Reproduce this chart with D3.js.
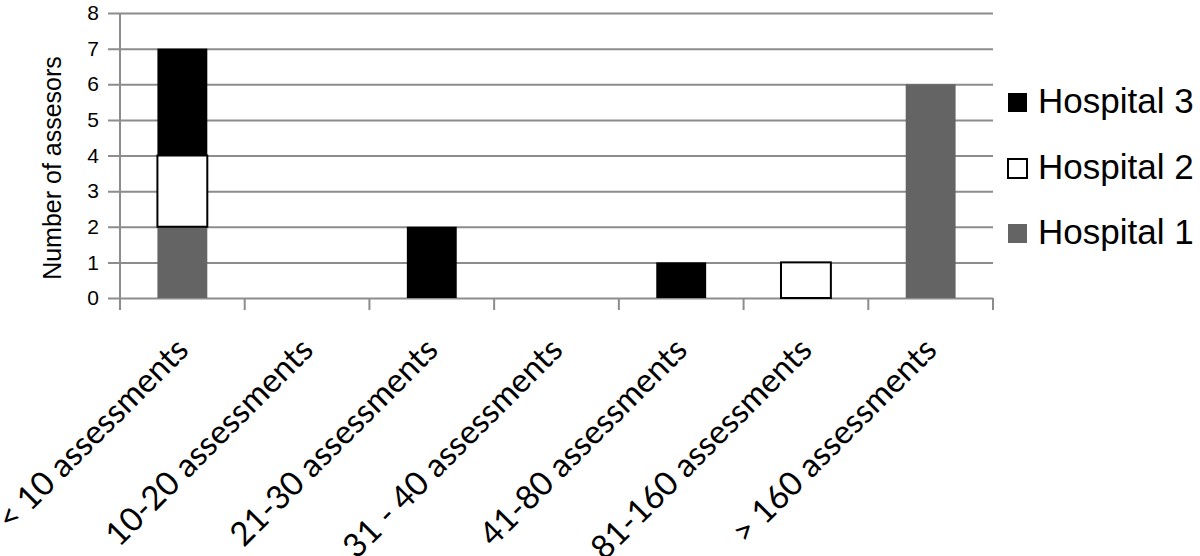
<!DOCTYPE html>
<html>
<head>
<meta charset="utf-8">
<script src="https://cdn.jsdelivr.net/npm/d3@7"></script>
<style>
  body { margin: 0; background: #fff; }
</style>
</head>
<body>
<div id="chart"></div>
<script>
// data
var categories = [
  "< 10 assessments",
  "10-20 assessments",
  "21-30 assessments",
  "31 - 40 assessments",
  "41-80 assessments",
  "81-160 assessments",
  "> 160 assessments"
];
var hospital1 = [2, 0, 0, 0, 0, 0, 6];
var hospital2 = [2, 0, 0, 0, 0, 1, 0];
var hospital3 = [3, 0, 2, 0, 1, 0, 0];
var seriesNames = ["Hospital 1", "Hospital 2", "Hospital 3"];
var yTicks = [0, 1, 2, 3, 4, 5, 6, 7, 8];

var W = 1200, H = 556;
var plotLeft = 120, plotRight = 993, plotTop = 13, plotBottom = 298;

var svg = d3
  .select("#chart")
  .append("svg")
  .attr("width", W)
  .attr("height", H);

var rows = categories.map(function (c, i) {
  return {
    cat: c,
    "Hospital 1": hospital1[i],
    "Hospital 2": hospital2[i],
    "Hospital 3": hospital3[i]
  };
});

var x = d3
  .scaleBand()
  .domain(categories)
  .range([plotLeft, plotRight])
  .paddingInner(0.6)
  .paddingOuter(0.3);

var y = d3.scaleLinear().domain([0, 8]).range([plotBottom, plotTop]);

var fill = { "Hospital 1": "#646464", "Hospital 2": "#ffffff", "Hospital 3": "#000000" };
var stroke = { "Hospital 1": "none", "Hospital 2": "#000000", "Hospital 3": "none" };

var grid = "#8c8c8c";

// gridlines + y axis
var yAxis = svg
  .append("g")
  .attr("transform", "translate(" + plotLeft + ",0)")
  .call(
    d3.axisLeft(y)
      .tickValues(yTicks)
      .tickSize(-(plotRight - plotLeft))
      .tickSizeOuter(0)
      .tickPadding(21)
  );
yAxis.select(".domain").remove();
yAxis.selectAll(".tick line")
  .attr("x1", -12)
  .attr("stroke", grid)
  .attr("stroke-width", 2);
yAxis.selectAll(".tick text")
  .attr("font-family", "'Liberation Sans', Arial, sans-serif")
  .attr("font-size", "21px")
  .attr("fill", "#000");

// vertical axis line
svg.append("line")
  .attr("x1", plotLeft).attr("x2", plotLeft)
  .attr("y1", plotTop).attr("y2", plotBottom + 12)
  .attr("stroke", grid).attr("stroke-width", 2);

// x ticks at band boundaries
var edges = categories.map(function (c) { return x(c) - x.step() * x.paddingOuter(); });
edges.push(plotRight);
svg.append("g")
  .selectAll("line")
  .data(edges.slice(1))
  .enter()
  .append("line")
  .attr("x1", function (d) { return d; })
  .attr("x2", function (d) { return d; })
  .attr("y1", plotBottom)
  .attr("y2", plotBottom + 12)
  .attr("stroke", grid)
  .attr("stroke-width", 2);

// stacked bars
var stacked = d3.stack().keys(seriesNames)(rows);

svg.append("g")
  .selectAll("g")
  .data(stacked)
  .enter()
  .append("g")
  .attr("fill", function (d) { return fill[d.key]; })
  .attr("stroke", function (d) { return stroke[d.key]; })
  .attr("stroke-width", 2)
  .selectAll("rect")
  .data(function (d) { return d.filter(function (v) { return v[1] > v[0]; }); })
  .enter()
  .append("rect")
  .attr("x", function (d) { return x(d.data.cat); })
  .attr("y", function (d) { return y(d[1]); })
  .attr("width", x.bandwidth())
  .attr("height", function (d) { return y(d[0]) - y(d[1]); });

// x labels, rotated
svg.append("g")
  .selectAll("text")
  .data(categories)
  .enter()
  .append("text")
  .attr("transform", function (d) {
    return "translate(" + (x(d) + x.bandwidth() / 2 + 8) + "," + 352 + ") rotate(-45)";
  })
  .attr("text-anchor", "end")
  .attr("font-family", "Lato, 'Open Sans', sans-serif")
  .attr("font-size", "33px")
  .attr("fill", "#000")
  .text(function (d) { return d; });

// y title
svg.append("text")
  .attr("transform", "translate(61,168) rotate(-90)")
  .attr("text-anchor", "middle")
  .attr("font-family", "'Liberation Sans', Arial, sans-serif")
  .attr("font-size", "25px")
  .attr("fill", "#000")
  .text("Number of assesors");

// legend (top entry = Hospital 3)
var legendY = { "Hospital 3": 113, "Hospital 2": 179, "Hospital 1": 244 };
var legend = svg.append("g")
  .selectAll("g")
  .data(seriesNames)
  .enter()
  .append("g")
  .attr("transform", function (d) { return "translate(1007," + legendY[d] + ")"; });
legend.append("rect")
  .attr("x", 1).attr("y", -20)
  .attr("width", 19).attr("height", 19)
  .attr("fill", function (d) { return fill[d]; })
  .attr("stroke", function (d) { return d === "Hospital 2" ? "#000" : "none"; })
  .attr("stroke-width", 2);
legend.append("text")
  .attr("x", 31)
  .attr("y", 0)
  .attr("font-family", "'Liberation Sans', Arial, sans-serif")
  .attr("font-size", "35px")
  .attr("fill", "#000")
  .text(function (d) { return d; });
</script>
</body>
</html>
